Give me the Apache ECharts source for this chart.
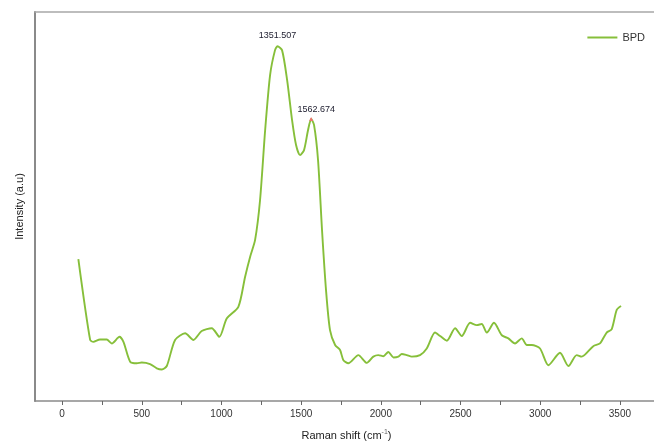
<!DOCTYPE html>
<html>
<head>
<meta charset="utf-8">
<script src="https://cdn.jsdelivr.net/npm/echarts@6/dist/echarts.min.js"></script>
<style>html,body{margin:0;padding:0;background:#fff}#c{width:654px;height:441px}</style>
</head>
<body>
<div id="c"></div>
<script>
const ramanShift = [102,176,196,238,280,312,360,385,427,469,500,552,594,626,657,709,772,824,876,939,987,1033,1106,1148,1180,1211,1242,1274,1305,1336,1351.5,1380,1412,1443,1468,1493,1518,1543,1562.7,1581,1606,1631,1656,1681,1713,1744,1765,1796,1859,1912,1953,1984,2016,2047,2079,2110,2131,2163,2194,2246,2288,2340,2372,2414,2466,2508,2560,2602,2633,2665,2710,2759,2800,2842,2884,2916,2947,2999,3051,3124,3177,3229,3260,3333,3375,3417,3448,3480,3507];
const intensity = [37.3,16.5,16.0,16.6,16.6,15.6,17.3,16.0,10.9,10.5,10.7,10.3,9.2,8.9,9.8,16.5,18.2,16.5,18.8,19.5,17.3,22.0,25.0,32.7,37.9,42.2,52.4,70.4,84.6,91.0,92.0,91.0,83.3,73.0,66.6,64.0,65.3,70.4,73.3,71.7,62.7,44.7,29.3,19.0,15.2,13.9,11.3,10.5,12.6,10.6,12.2,12.6,12.3,13.4,12.0,12.2,12.9,12.6,12.2,12.6,14.3,18.4,17.5,16.3,19.5,17.5,20.9,20.3,20.6,18.4,20.9,17.7,16.9,15.6,16.9,15.2,15.2,14.3,10.0,13.2,9.8,12.6,12.2,14.9,15.6,18.4,19.2,24.2,25.2];
const peakLabels = ["1351.507", "1562.674"];
const peakX = [1351.507, 1562.674];
const peakY = [92.0, 73.3];
const xTickLabels = [0,500,1000,1500,2000,2500,3000,3500];
const xTicks = [0,250,500,750,1000,1250,1500,1750,2000,2250,2500,2750,3000,3250,3500,3750];
const seriesName = "BPD";

const data = ramanShift.map((x, i) => [x, intensity[i]]);
const chart = echarts.init(document.getElementById('c'), null, {renderer: 'canvas'});
const font = 'Liberation Sans, Arial, sans-serif';
chart.setOption({
  animation: false,
  backgroundColor: '#fff',
  textStyle: {fontFamily: font},
  grid: {left: 35, right: -4, top: 12, bottom: 40, outerBoundsMode: 'none', containLabel: false},
  legend: {
    right: 4, top: 27, data: [{name: seriesName, icon: 'rect'}],
    itemWidth: 30, itemHeight: 2, itemGap: 4,
    textStyle: {fontSize: 11, color: '#333', fontFamily: font}
  },
  xAxis: [{
    type: 'value', min: -170, max: 3739,
    axisLine: {show: true, onZero: false, lineStyle: {color: '#8a8a8a', width: 1.5}},
    axisTick: {show: true, customValues: xTicks, length: 4, lineStyle: {color: '#666'}},
    axisLabel: {customValues: xTickLabels, fontSize: 10, color: '#333', margin: 8, fontFamily: font,
      formatter: v => String(v)},
    splitLine: {show: false},
    name: 'Raman shift (cm{sup|-1})', nameLocation: 'middle', nameGap: 28,
    nameTextStyle: {fontSize: 11, color: '#222', fontFamily: font,
      rich: {sup: {fontSize: 7, verticalAlign: 'top', padding: [0,0,6,0], color: '#666'}}}
  }, {
    type: 'value', position: 'top', min: -170, max: 3739,
    axisLine: {show: true, onZero: false, lineStyle: {color: '#a8a8a8', width: 1.5}},
    axisTick: {show: false}, axisLabel: {show: false}, splitLine: {show: false}
  }],
  yAxis: {
    type: 'value', min: 0.8, max: 100.8,
    axisLine: {show: true, onZero: false, lineStyle: {color: '#8a8a8a', width: 2}},
    axisTick: {show: false}, axisLabel: {show: false}, splitLine: {show: false},
    name: 'Intensity (a.u)', nameLocation: 'middle', nameGap: 10, nameRotate: 90,
    nameTextStyle: {fontSize: 11, color: '#222', fontFamily: font}
  },
  series: [{
    name: seriesName, type: 'line', data: data, xAxisIndex: 0,
    smooth: 0.25, showSymbol: false, symbol: 'none',
    lineStyle: {color: '#86bf3a', width: 1.9},
    itemStyle: {color: '#86bf3a'},
    markPoint: {
      data: [
        {coord: [peakX[0], peakY[0]], symbol: 'circle', symbolSize: 0,
         label: {show: true, formatter: peakLabels[0], position: 'top', distance: 6}},
        {coord: [peakX[1], peakY[1]], symbol: 'triangle', symbolSize: 4,
         itemStyle: {color: '#f07070'},
         label: {show: true, formatter: peakLabels[1], position: 'top', distance: 3, offset: [5, 0]}}
      ],
      label: {fontSize: 9, color: '#223', fontFamily: font}
    }
  }]
});
</script>
</body>
</html>
